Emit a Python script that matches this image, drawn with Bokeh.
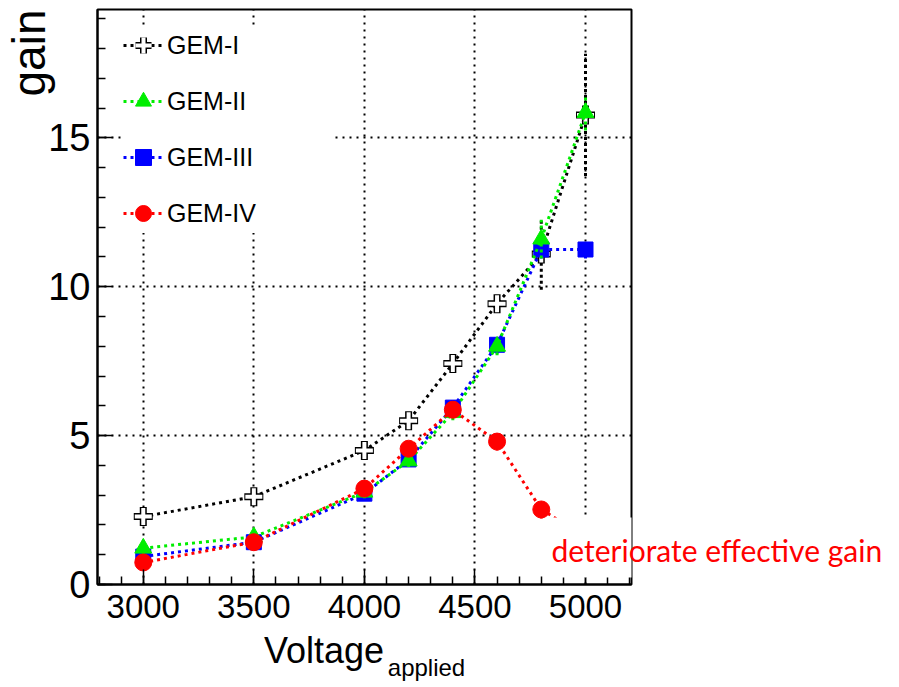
import math
from bokeh.plotting import figure
from bokeh.models import (Range1d, FixedTicker, Legend, LegendItem, Title, LinearAxis,
                          BoxAnnotation, ColumnDataSource)
from bokeh.embed import file_html
from bokeh.resources import INLINE

# ---------------- data ----------------
voltage = [3000, 3500, 4000, 4200, 4400, 4600, 4800, 5000]
gem1 = [2.28, 2.95, 4.50, 5.50, 7.42, 9.43, 11.10, 15.77]
gem1_err = [0.15, 0.15, 0.20, 0.20, 0.25, 0.30, 1.20, 2.05]
gem2 = [1.22, 1.60, 3.10, 4.15, 5.77, 8.00, 11.60, 15.85]
gem2_err = [0.20, 0.20, 0.20, 0.20, 0.25, 0.30, 0.65, 0.60]
gem3 = [0.94, 1.42, 3.05, 4.20, 5.94, 8.05, 11.25, 11.25]
gem3_err = [0.15, 0.15, 0.20, 0.20, 0.25, 0.30, 0.30, 0.30]
gem4 = [0.74, 1.42, 3.22, 4.56, 5.87, 4.80, 2.52, 1.60]
gem4_err = [0.15, 0.15, 0.20, 0.20, 0.25, 0.30, 0.30, 0.30]
series_names = ["GEM-I", "GEM-II", "GEM-III", "GEM-IV"]
x_ticks = [3000, 3500, 4000, 4500, 5000]
x_minor = list(range(2800, 5201, 100))
y_ticks = [0, 5, 10, 15]
y_minor = list(range(0, 20, 1))
x_title = "Voltage"
x_title_sub = "applied"
y_title = "gain"
note = "deteriorate effective gain"
note_level = 1.15

# ---------------- geometry ----------------
W, H = 899, 687
FL, FR, FT, FB = 97, 631, 9, 584
X0, X1 = 2793, 5208
Y0, Y1 = 0, 19.31


def sx(px):
    return X0 + (px - FL) * (X1 - X0) / (FR - FL)


def sy(py):
    return Y0 + (FB - py) * (Y1 - Y0) / (FB - FT)


FONT = "Liberation Sans"

p = figure(width=W, height=H, x_range=Range1d(X0, X1), y_range=Range1d(Y0, Y1),
           output_backend="svg", toolbar_location=None,
           min_border_left=FL, min_border_right=W - FR,
           min_border_top=FT, min_border_bottom=H - FB)
p.outline_line_color = "black"
p.outline_line_width = 2
p.background_fill_color = "white"
p.border_fill_color = "white"

p.xaxis.ticker = FixedTicker(ticks=x_ticks, minor_ticks=x_minor)
p.yaxis.ticker = FixedTicker(ticks=y_ticks, minor_ticks=y_minor)
for ax in (p.xaxis, p.yaxis):
    ax.axis_line_width = 2
    ax.axis_line_color = "black"
    ax.major_tick_in = 15
    ax.major_tick_out = 0
    ax.minor_tick_in = 8
    ax.minor_tick_out = 0
    ax.major_tick_line_width = 1.5
    ax.minor_tick_line_width = 1.5
    ax.major_label_text_font = FONT
    ax.major_label_text_color = "black"
p.xaxis.major_label_text_font_size = "33px"
p.xaxis.major_label_standoff = 10
p.yaxis.major_label_text_font_size = "38px"
p.yaxis.major_label_standoff = 7

for g in (p.xgrid, p.ygrid):
    g.grid_line_color = "black"
    g.grid_line_dash = "2 5"
    g.grid_line_width = 2

DASH = "3 4"
colors = {"GEM-I": "black", "GEM-II": "#00ee00", "GEM-III": "#0000ff", "GEM-IV": "#ff0000"}
vals = {"GEM-I": (gem1, gem1_err), "GEM-II": (gem2, gem2_err),
        "GEM-III": (gem3, gem3_err), "GEM-IV": (gem4, gem4_err)}

legend_rs = {}
# draw order: I, III, II, IV
for name in ["GEM-I", "GEM-III", "GEM-II", "GEM-IV"]:
    y, e = vals[name]
    c = colors[name]
    src = ColumnDataSource(dict(x=voltage, y=y,
                                lo=[a - b for a, b in zip(y, e)],
                                hi=[a + b for a, b in zip(y, e)]))
    ln = p.line("x", "y", source=src, line_color=c, line_dash=DASH, line_width=3)
    p.segment(x0="x", x1="x", y0="lo", y1="hi", source=src, line_color=c,
              line_dash="3 3", line_width=3)
    rs = [ln]
    if name == "GEM-I":
        m1 = p.scatter("x", "y", source=src, marker="cross", size=19, line_color="black",
                       line_width=7)
        m2 = p.scatter("x", "y", source=src, marker="cross", size=17, line_color="white",
                       line_width=4)
        rs += [m1, m2]
    elif name == "GEM-II":
        rs.append(p.scatter("x", "y", source=src, marker="triangle", size=17,
                            fill_color=c, line_color=c))
    elif name == "GEM-III":
        rs.append(p.scatter("x", "y", source=src, marker="square", size=15,
                            fill_color=c, line_color=c))
    else:
        rs.append(p.scatter("x", "y", source=src, marker="circle", size=17,
                            fill_color=c, line_color=c))
    legend_rs[name] = rs

legend = Legend(items=[LegendItem(label=n, renderers=legend_rs[n]) for n in series_names],
                location=(26, FB - 233), padding=10, spacing=16, glyph_width=40,
                glyph_height=40, label_height=40, label_width=164, label_standoff=4,
                label_text_font=FONT, label_text_font_size="25px", label_text_color="black",
                border_line_color=None, background_fill_color="white",
                background_fill_alpha=1.0, margin=0)
p.add_layout(legend)

# white patch behind the note (hides the end of the red curve and frame edge)
box = BoxAnnotation(left=sx(550), right=sx(W + 50), bottom=sy(577), top=sy(517),
                    fill_color="white", fill_alpha=1.0, line_color=None, level="annotation")
p.add_layout(box)


def text_axis(pos, txt, font, size, color, standoff, orientation="horizontal"):
    ax = LinearAxis(ticker=FixedTicker(ticks=[pos], minor_ticks=[]),
                    major_label_overrides={pos: txt},
                    major_label_orientation=orientation,
                    major_label_standoff=standoff,
                    major_label_text_font=font, major_label_text_font_size=size,
                    major_label_text_color=color,
                    axis_line_color=None, major_tick_line_color=None,
                    minor_tick_line_color=None, major_tick_in=0, major_tick_out=0,
                    minor_tick_in=0, minor_tick_out=0)
    ax.level = "overlay"
    return ax


# note drawn as the single label of an extra right axis
p.add_layout(text_axis(note_level, note, "Lato", "30px", "#ff0000", -80), "right")

# x title ("Voltage" with subscript "applied") as labels of extra bottom axes
vx = round(sx(323.5), 1)
ax_x = round(sx(426), 1)
p.add_layout(text_axis(vx, x_title, FONT, "36px", "black", 9), "below")
p.add_layout(text_axis(ax_x, x_title_sub, FONT, "24px", "black", -20), "below")

# y title
p.add_layout(Title(text=y_title, align="right", vertical_align="top", standoff=-22,
                   text_font=FONT, text_font_size="46px", text_font_style="normal",
                   text_color="black"), "left")

open("out.html", "w").write(file_html(p, INLINE))
